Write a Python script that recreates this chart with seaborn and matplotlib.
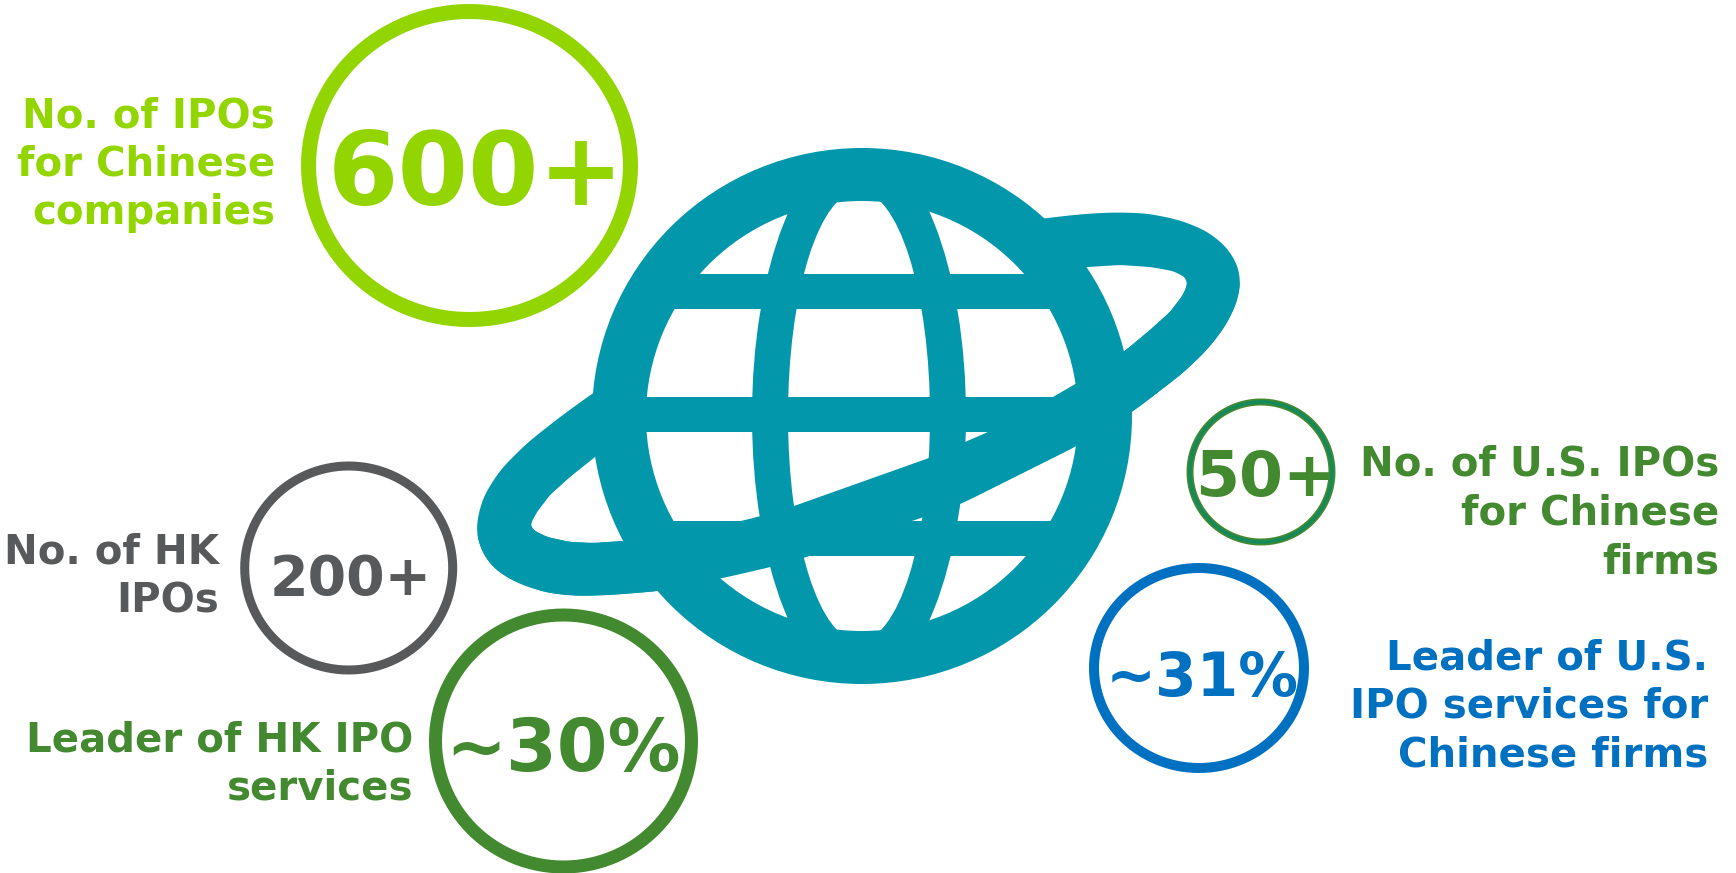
import numpy as np
import pandas as pd
import matplotlib
matplotlib.use("Agg")
import matplotlib.pyplot as plt
import seaborn as sns
from matplotlib.patches import Ellipse, PathPatch, Rectangle
from matplotlib.path import Path

# Headline figures and their captions
figures = ["600+", "200+", "~30%", "50+", "~31%"]
captions = [
    ["No. of IPOs", "for Chinese", "companies"],
    ["No. of HK", "IPOs"],
    ["Leader of HK IPO", "services"],
    ["No. of U.S. IPOs", "for Chinese", "firms"],
    ["Leader of U.S.", "IPO services for", "Chinese firms"],
]
colors = ["#93D500", "#58595B", "#43892F", "#43892F", "#0070C0"]
TEAL = "#0297AA"

# Ring geometry in canvas pixels
ring_x = [469.5, 348.7, 563.5, 1261, 1199]
ring_y = [165.5, 568, 741, 472, 668]
ring_rx = [161, 104, 128, 71, 105]
ring_ry = [154, 102, 126, 70, 100]
ring_lw = [15, 9, 13, 7, 10]
figure_x = [476, 351, 563, 1265.5, 1202]
figure_base = [205, 595, 771, 496, 696]
figure_size = [73, 40, 52.5, 45.5, 43]
caption_right = [275, 219, 413, 1719, 1708.5]
caption_first = [127, 564, 751, 476, 669]
caption_pitch = 48.7
caption_size = 29

sns.set_theme(style="white")
plt.rcParams["font.family"] = ["DejaVu Sans"]

fig = plt.figure(figsize=(17.36, 8.73), dpi=100)
ax = fig.add_axes([0, 0, 1, 1])
ax.set_xlim(0, 1736)
ax.set_ylim(873, 0)
ax.axis("off")


def soft_loop(points, sigma):
    """Resample a closed outline every pixel and soften it with a Gaussian window."""
    p = np.asarray(points + points[:1], float)
    s = np.r_[0, np.cumsum(np.hypot(*np.diff(p, axis=0).T))]
    t = np.arange(0, s[-1], 1.0)
    xy = np.column_stack([np.interp(t, s, p[:, 0]), np.interp(t, s, p[:, 1])])
    half = int(4 * sigma)
    window = np.exp(-0.5 * (np.arange(-half, half + 1) / sigma) ** 2)
    window /= window.sum()
    wrapped = np.vstack([xy[-half:], xy, xy[:half]])
    out = np.column_stack([np.convolve(wrapped[:, k], window, mode="valid") for k in (0, 1)])
    return out, s


def fill(xy, color, z):
    ax.add_patch(PathPatch(Path(np.vstack([xy, xy[0]])), fc=color, ec="none", zorder=z))


# Orbit edges, running from the right end of the planet's ring to the left end
outer_front = [(1241, 282), (1237, 303), (1225, 327), (1207, 350), (1183, 373), (1157, 393),
               (1135, 410), (1077, 446), (960, 504.5), (812, 555.5), (771, 567), (723, 578),
               (660, 591), (610, 595), (577, 596), (547, 593), (517, 583), (495, 570),
               (482, 553), (476, 533)]
outer_back = [(477, 520), (483, 497), (500, 470), (527, 443), (560, 417), (593, 393),
              (700, 325), (900, 240), (1047, 218), (1080, 214.3), (1113, 212.3), (1147, 213.3),
              (1180, 220), (1207, 231), (1227, 247), (1238, 265)]
inner_front = [(1185, 277), (1188, 283), (1183, 295), (1170, 312), (1150, 330), (1126, 350),
               (1077, 383), (1053, 397), (988, 432), (965, 442), (929, 458), (794, 506),
               (761, 516), (741, 521), (623, 541), (593, 543), (570, 542), (547, 537),
               (533, 530), (530, 525)]
inner_back = [(537, 512), (550, 495), (570, 477), (595, 457), (700, 380), (900, 290),
              (1088, 267), (1120, 265), (1150, 267), (1173, 271)]

outer_loop, outer_s = soft_loop(outer_front + outer_back, 9)
inner_loop, inner_s = soft_loop(inner_front + inner_back, 3.5)

# Back of the orbit sits under the globe
fill(outer_loop, TEAL, 1)
fill(inner_loop, "white", 2)

# Globe: rim, meridians and parallels
CX, CY = 862, 416
ax.add_patch(Ellipse((CX, CY), 540, 536, fc=TEAL, ec="none", zorder=3))
disc = Ellipse((CX, CY), 432, 430, fc="white", ec="none", zorder=4)
ax.add_patch(disc)
grid_clip = Ellipse((CX, CY), 450, 448, transform=ax.transData)
merid_out = Ellipse((859, CY), 214, 542, fc=TEAL, ec="none", zorder=5)
merid_in = Ellipse((859, CY), 142, 450, fc="white", ec="none", zorder=6)
ax.add_patch(merid_out)
ax.add_patch(merid_in)
merid_out.set_clip_path(grid_clip)
merid_in.set_clip_path(disc)
for y0, y1 in [(273.6, 309.3), (397, 432), (521, 555.5)]:
    bar = Rectangle((560, y0), 600, y1 - y0, fc=TEAL, ec="none", zorder=7)
    ax.add_patch(bar)
    bar.set_clip_path(grid_clip)

# Front of the orbit passes over the globe
front_in = inner_loop[: int(inner_s[len(inner_front) - 1])]
front_out = outer_loop[: int(outer_s[len(outer_front) - 1])]
fill(np.vstack([front_in, front_out[::-1]]), TEAL, 8)

# Rings with their figures and captions
for i, label in enumerate(figures):
    angle = np.linspace(0, 2 * np.pi, 121)
    ring = Path(np.column_stack([np.cos(angle), ring_ry[i] / ring_rx[i] * np.sin(angle)]), closed=True)
    frame = pd.DataFrame({"x": [ring_x[i]], "y": [ring_y[i]]})
    sns.scatterplot(data=frame, x="x", y="y", ax=ax, marker=ring, s=(2 * ring_rx[i] * 0.72) ** 2,
                    facecolor="none", edgecolor=colors[i], linewidth=ring_lw[i] * 0.72,
                    legend=False, zorder=10, clip_on=False)
    if label == "50+":
        # the small ring carries a darker core along its stroke
        sns.scatterplot(data=frame, x="x", y="y", ax=ax, marker=ring, s=(2 * ring_rx[i] * 0.72) ** 2,
                        facecolor="none", edgecolor="#148A5C", linewidth=ring_lw[i] * 0.36,
                        legend=False, zorder=10, clip_on=False)
    ax.text(figure_x[i], figure_base[i], label, color=colors[i], fontsize=figure_size[i],
            fontweight="bold", ha="center", va="baseline", zorder=11)
    for j, line in enumerate(captions[i]):
        ax.text(caption_right[i], caption_first[i] + j * caption_pitch, line, color=colors[i],
                fontsize=caption_size, fontweight="bold", ha="right", va="baseline", zorder=11)

ax.set_xlabel("")
ax.set_ylabel("")
fig.savefig("out.png", dpi=100, facecolor="white")
